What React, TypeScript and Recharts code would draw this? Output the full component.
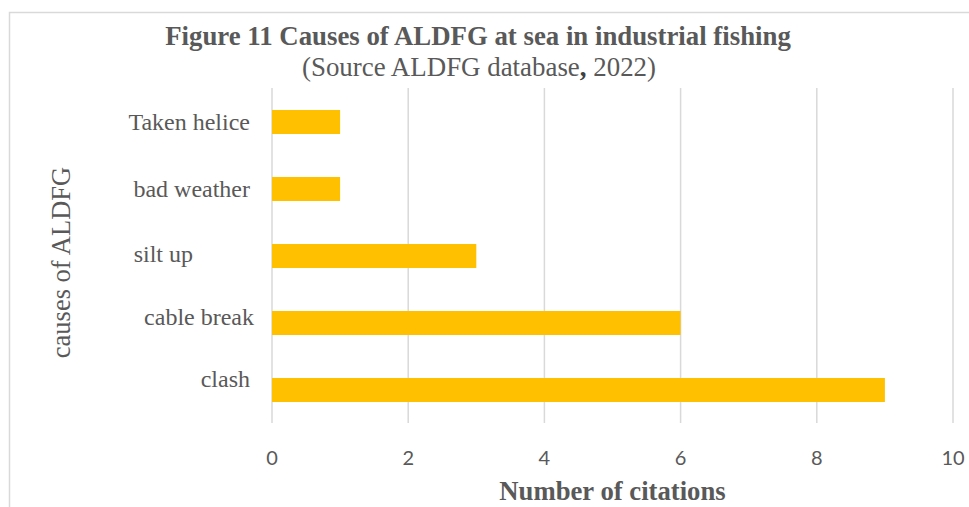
import React from "react";
import { BarChart, Bar, XAxis, YAxis, CartesianGrid } from "recharts";

const categories = ["Taken helice", "bad weather", "silt up", "cable break", "clash"];
const citations = [1, 1, 3, 6, 9];
const xTicks = [0, 2, 4, 6, 8, 10];

const titleText = "Figure 11 Causes of ALDFG at sea in industrial fishing";
const sourceText = "(Source ALDFG database";
const sourceYear = " 2022)";
const xTitle = "Number of citations";
const yTitle = "causes of ALDFG";

const data = categories.map((name, i) => ({ name, value: citations[i] }));

const GREY = "#595959";
const GRID = "#d9d9d9";
const SERIF = "'Liberation Serif', 'Times New Roman', serif";

// label placement quirks from the original rendering (style only)
const tickStyle: Record<string, { dx: number; dy: number }> = {
  "Taken helice": { dx: 0, dy: 0 },
  "bad weather": { dx: 0, dy: 0 },
  "silt up": { dx: -57, dy: -2 },
  "cable break": { dx: 4, dy: -6 },
  clash: { dx: 0, dy: -11 },
};

const CategoryTick = (props: any) => {
  const { x, y, payload } = props;
  const s = tickStyle[payload.value] || { dx: 0, dy: 0 };
  return (
    <text
      x={x + s.dx}
      y={y + s.dy}
      dy="0.35em"
      textAnchor="end"
      fill={GREY}
      fontFamily={SERIF}
      fontSize={24}
    >
      {payload.value}
    </text>
  );
};

const XTitle = (props: any) => {
  const vb = props.viewBox || { x: 272, y: 423, width: 681, height: 40 };
  return (
    <text
      x={vb.x + vb.width / 2}
      y={500}
      textAnchor="middle"
      fill={GREY}
      fontFamily={SERIF}
      fontWeight="bold"
      fontSize={26.7}
    >
      {xTitle}
    </text>
  );
};

const YTitle = (props: any) => {
  const vb = props.viewBox || { x: 0, y: 88, width: 272, height: 335 };
  const cx = 70;
  const cy = vb.y + vb.height / 2 + 7;
  return (
    <text
      x={cx}
      y={cy}
      transform={`rotate(-90, ${cx}, ${cy})`}
      textAnchor="middle"
      fill={GREY}
      fontFamily={SERIF}
      fontSize={26.5}
    >
      {yTitle}
    </text>
  );
};

export default function App() {
  return (
    <div
      style={{
        position: "absolute",
        left: 0,
        top: 0,
        width: 969,
        height: 507,
        overflow: "hidden",
        background: "#fff",
      }}
    >
      <svg
        width={969}
        height={507}
        style={{ position: "absolute", left: 0, top: 0, pointerEvents: "none" }}
      >
        <path d="M9.5,507 V12.5 H969" fill="none" stroke={GRID} strokeWidth={1.5} />
        <text
          x={478}
          y={45}
          textAnchor="middle"
          fill={GREY}
          fontFamily={SERIF}
          fontWeight="bold"
          fontSize={26.8}
        >
          {titleText}
        </text>
        <text x={479} y={76} textAnchor="middle" fill={GREY} fontFamily={SERIF} fontSize={26.9}>
          {sourceText}
          <tspan fontWeight="bold" fill="#404040">,</tspan>
          {sourceYear}
        </text>
      </svg>
      <div style={{ position: "absolute", left: 0, top: 0 }}>
        <BarChart
          width={969}
          height={507}
          data={data}
          layout="vertical"
          margin={{ top: 88, right: 16, bottom: 44, left: 0 }}
        >
          <CartesianGrid horizontal={false} vertical={true} stroke={GRID} strokeWidth={1.5} />
          <XAxis
            type="number"
            domain={[0, 10]}
            ticks={xTicks}
            interval={0}
            axisLine={false}
            tickLine={false}
            height={40}
            tickMargin={22}
            tick={{ fill: GREY, fontSize: 20, fontFamily: "Lato, 'Open Sans', sans-serif" }}
            label={<XTitle />}
          />
          <YAxis
            type="category"
            dataKey="name"
            width={272}
            axisLine={false}
            tickLine={false}
            tickMargin={16}
            interval={0}
            tick={<CategoryTick />}
            label={<YTitle />}
          />
          <Bar dataKey="value" fill="#FFC000" barSize={24} isAnimationActive={false} />
        </BarChart>
      </div>
    </div>
  );
}
